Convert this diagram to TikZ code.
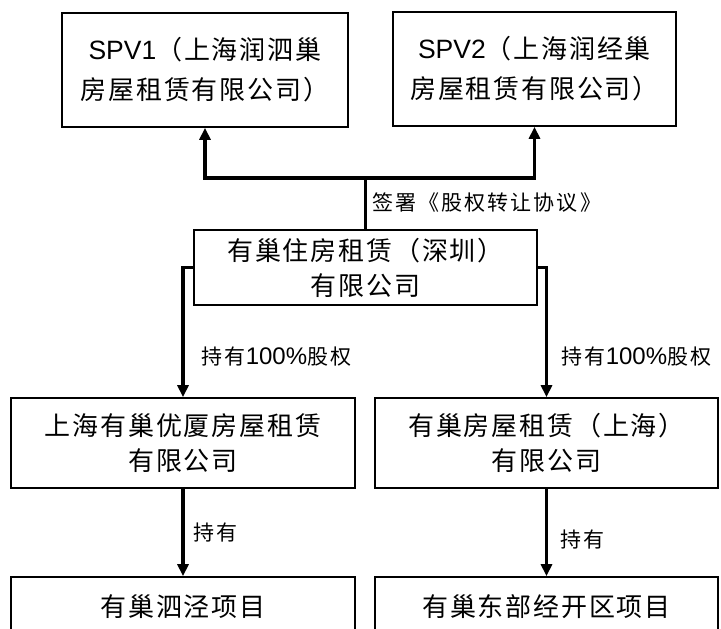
\documentclass[tikz,border=0pt]{standalone}
\usepackage{fontspec}
\setmainfont{Noto Sans CJK SC}[LetterSpace=7]
\newfontfamily\lblfont{Noto Sans CJK SC}[LetterSpace=10]
\newfontfamily\lat{Liberation Sans}
\usetikzlibrary{arrows.meta}
\begin{document}
\begin{tikzpicture}[x=1pt,y=-1pt,
  box/.style={draw, line width=1.7pt, inner sep=0pt, align=center},
  spvbox/.style={box, font=\fontsize{26}{40}\selectfont, minimum width=286pt, minimum height=114pt},
  cbox/.style={box, font=\fontsize{26}{35}\selectfont, minimum width=343pt},
  conn/.style={line width=3.5pt, -{Triangle[length=12pt,width=11pt]}},
  plain/.style={line width=3pt},
  lbl/.style={font=\lblfont\fontsize{21}{26}\selectfont, anchor=west, inner sep=0pt}]
\useasboundingbox (0,0) rectangle (721,629);
% boxes
\node[spvbox] (spv1) at (205,70) {{\lat\fontsize{26.5}{40}\selectfont SPV1}（上海润泗巢\\房屋租赁有限公司）};
\node[spvbox, minimum width=283pt] (spv2) at (534.5,69) {{\lat\fontsize{26.5}{40}\selectfont SPV2}（上海润经巢\\房屋租赁有限公司）};
\node[cbox, minimum height=75pt] (mid) at (365.5,267.5) {有巢住房租赁（深圳）\\有限公司};
\node[cbox, minimum width=344pt, minimum height=90pt] (lb) at (183,443) {上海有巢优厦房屋租赁\\有限公司};
\node[cbox, minimum height=90pt] (rb) at (546.5,443) {有巢房屋租赁（上海）\\有限公司};
\node[cbox, minimum width=344pt, minimum height=60pt] (lp) at (183,607) {有巢泗泾项目};
\node[cbox, minimum height=60pt] (rp) at (546.5,607) {有巢东部经开区项目};
% connectors
\coordinate (j) at (365.5,178);
\draw[plain] (mid.north) -- (j);
\draw[conn] (j) -| (spv1.south);
\draw[conn] (j) -| (spv2.south);
\draw[conn] (mid.west) -| (lb.north);
\draw[conn] (mid.east) -| (rb.north);
\draw[conn] (lb.south) -- (lp.north);
\draw[conn] (rb.south) -- (rp.north);
% labels
\node[lbl] (sign) at (372,203) {签署《股权转让协议》};
\node[lbl] (l1) at (201.5,357) {持有{\lat\fontsize{24}{26}\selectfont 100\%}股权};
\node[lbl] (l2) at (561.5,357) {持有{\lat\fontsize{24}{26}\selectfont 100\%}股权};
\node[lbl] (l3) at (193,533) {持有};
\node[lbl] (l4) at (560,540) {持有};
\end{tikzpicture}
\end{document}
